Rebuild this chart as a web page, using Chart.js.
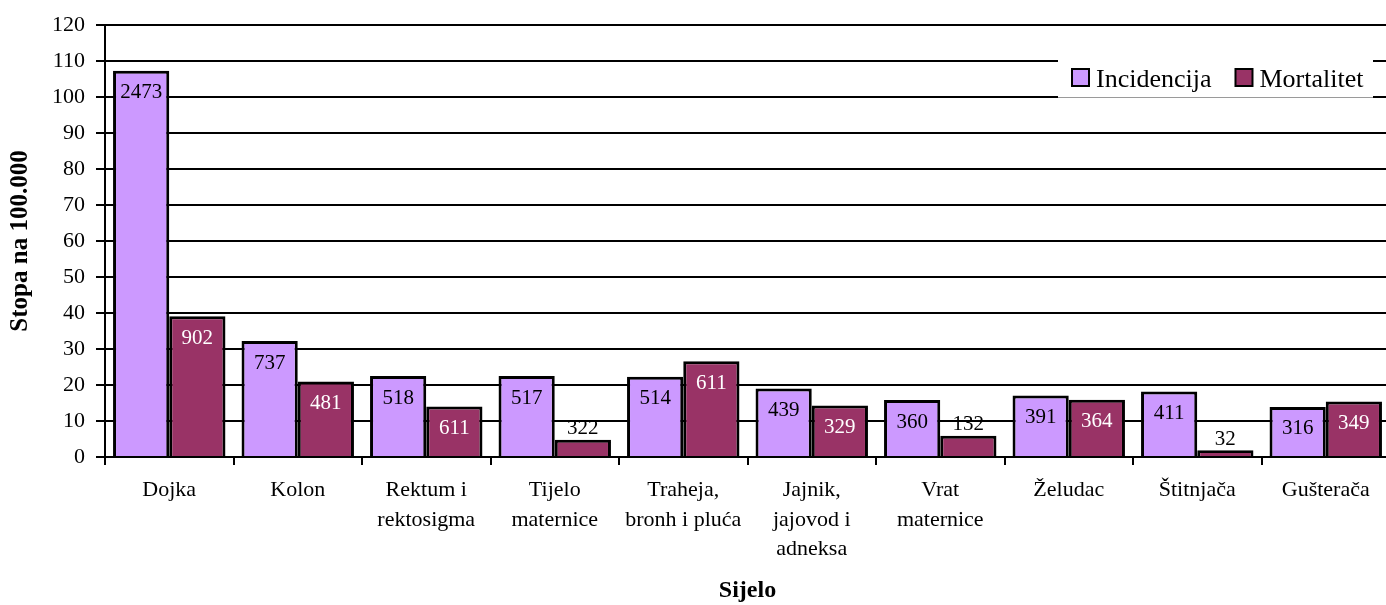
<!DOCTYPE html>
<html>
<head>
<meta charset="utf-8">
<script src="https://cdn.jsdelivr.net/npm/chart.js@4/dist/chart.umd.min.js"></script>
<style>
  html, body { margin: 0; padding: 0; background: #fff; overflow: hidden; }
  #wrap { width: 1391px; height: 605px; position: relative; }
</style>
</head>
<body>
<div id="wrap"><canvas id="chart"></canvas></div>
<script>
const categories = [
    "Dojka",
    "Kolon",
    ["Rektum i", "rektosigma"],
    ["Tijelo", "maternice"],
    ["Traheja,", "bronh i pluća"],
    ["Jajnik,", "jajovod i", "adneksa"],
    ["Vrat", "maternice"],
    "Želudac",
    "Štitnjača",
    "Gušterača"
]

// stopa na 100.000 (bar heights)
const incidencija = [107.3, 32.2, 22.5, 22.5, 22.3, 19.0, 15.8, 17.1, 18.2, 13.9]
const mortalitet = [39.1, 21.0, 14.0, 4.8, 26.6, 14.3, 5.9, 15.9, 1.9, 15.4]

// broj slucajeva (labels inside bars)
const incidencijaBroj = [2473, 737, 518, 517, 514, 439, 360, 391, 411, 316]
const mortalitetBroj = [902, 481, 611, 322, 611, 329, 132, 364, 32, 349]

const yTicks = { min: 0, max: 120, step: 10 }

const serif = "'Liberation Serif', 'Times New Roman', serif"
const counts = [incidencijaBroj, mortalitetBroj]


/* DATA LABELS */

const barLabels = {
    id: "barLabels",
    afterDatasetsDraw(chart) {
        const ctx = chart.ctx
        ctx.save()
        ctx.font = "21px " + serif
        ctx.textAlign = "center"
        ctx.textBaseline = "middle"
        chart.data.datasets.forEach((ds, i) => {
            const meta = chart.getDatasetMeta(i)
            meta.data.forEach((bar, j) => {
                const { x, y, base } = bar.getProps(["x", "y", "base"], true)
                const h = base - y
                const txt = String(counts[i][j])
                if (h > 30) {
                    ctx.fillStyle = i === 1 ? "#ffffff" : "#000000"
                    ctx.fillText(txt, x, y + 22)
                } else {
                    ctx.fillStyle = "#000000"
                    ctx.fillText(txt, x, y - 11)
                }
            })
        })
        ctx.restore()
    }
}


/* LEGEND BOX */

const legendBox = {
    id: "legendBox",
    afterDraw(chart) {
        const ctx = chart.ctx
        const right = chart.chartArea.right - 17
        const left = right - 315
        const top = 60
        const bottom = 97
        ctx.save()
        ctx.fillStyle = "#ffffff"
        ctx.fillRect(left, top, right - left, bottom - top + 1)
        ctx.strokeStyle = "#9a9a9a"
        ctx.lineWidth = 1
        ctx.beginPath()
        ctx.moveTo(left, bottom + 0.5)
        ctx.lineTo(right, bottom + 0.5)
        ctx.stroke()

        ctx.font = "26px " + serif
        ctx.textBaseline = "alphabetic"
        ctx.textAlign = "left"
        let x = left + 14
        chart.data.datasets.forEach((ds) => {
            ctx.fillStyle = ds.backgroundColor
            ctx.fillRect(x, 69, 17, 17)
            ctx.strokeStyle = "#000"
            ctx.lineWidth = 2
            ctx.strokeRect(x, 69, 17, 17)
            ctx.fillStyle = "#000"
            ctx.fillText(ds.label, x + 24, 86.5)
            x += 24 + ctx.measureText(ds.label).width + 24
        })
        ctx.restore()
    }
}


/* CHART */

new Chart(document.getElementById("chart"), {
    type: "bar",
    data: {
        labels: categories,
        datasets: [
            {
                label: "Incidencija",
                data: incidencija,
                backgroundColor: "#CC99FF",
                borderColor: "#000",
                borderWidth: 3,
                barPercentage: 1,
                categoryPercentage: 0.875
            },
            {
                label: "Mortalitet",
                data: mortalitet,
                backgroundColor: "#993366",
                borderColor: "#000",
                borderWidth: 3,
                barPercentage: 1,
                categoryPercentage: 0.875
            }
        ]
    },
    options: {
        responsive: true,
        maintainAspectRatio: false,
        animation: false,
        layout: { padding: { top: 25, right: 1, left: 0, bottom: 0 } },
        plugins: {
            legend: { display: false },
            tooltip: { enabled: false }
        },
        scales: {
            x: {
                grid: {
                    offset: true,
                    drawOnChartArea: false,
                    drawTicks: true,
                    tickLength: 8,
                    color: "#000",
                    lineWidth: 2
                },
                border: { color: "#000", width: 2 },
                ticks: {
                    color: "#000",
                    padding: 11,
                    maxRotation: 0,
                    autoSkip: false,
                    font: { family: serif, size: 22, lineHeight: 1.33 }
                },
                title: {
                    display: true,
                    text: "Sijelo",
                    color: "#000",
                    padding: { top: 0, bottom: 0 },
                    font: { family: serif, size: 24, weight: "bold" }
                },
                afterFit: (s) => { s.height = 148 }
            },
            y: {
                min: yTicks.min,
                max: yTicks.max,
                grid: {
                    color: "#000",
                    lineWidth: 2,
                    tickLength: 9
                },
                border: { color: "#000", width: 2 },
                ticks: {
                    stepSize: yTicks.step,
                    color: "#000",
                    padding: 11,
                    font: { family: serif, size: 22 }
                },
                title: {
                    display: true,
                    text: "Stopa na 100.000",
                    color: "#000",
                    padding: { top: 6, bottom: 0 },
                    font: { family: serif, size: 25, weight: "bold" }
                },
                afterFit: (s) => { s.width = 105 }
            }
        }
    },
    plugins: [barLabels, legendBox]
})
</script>
</body>
</html>
